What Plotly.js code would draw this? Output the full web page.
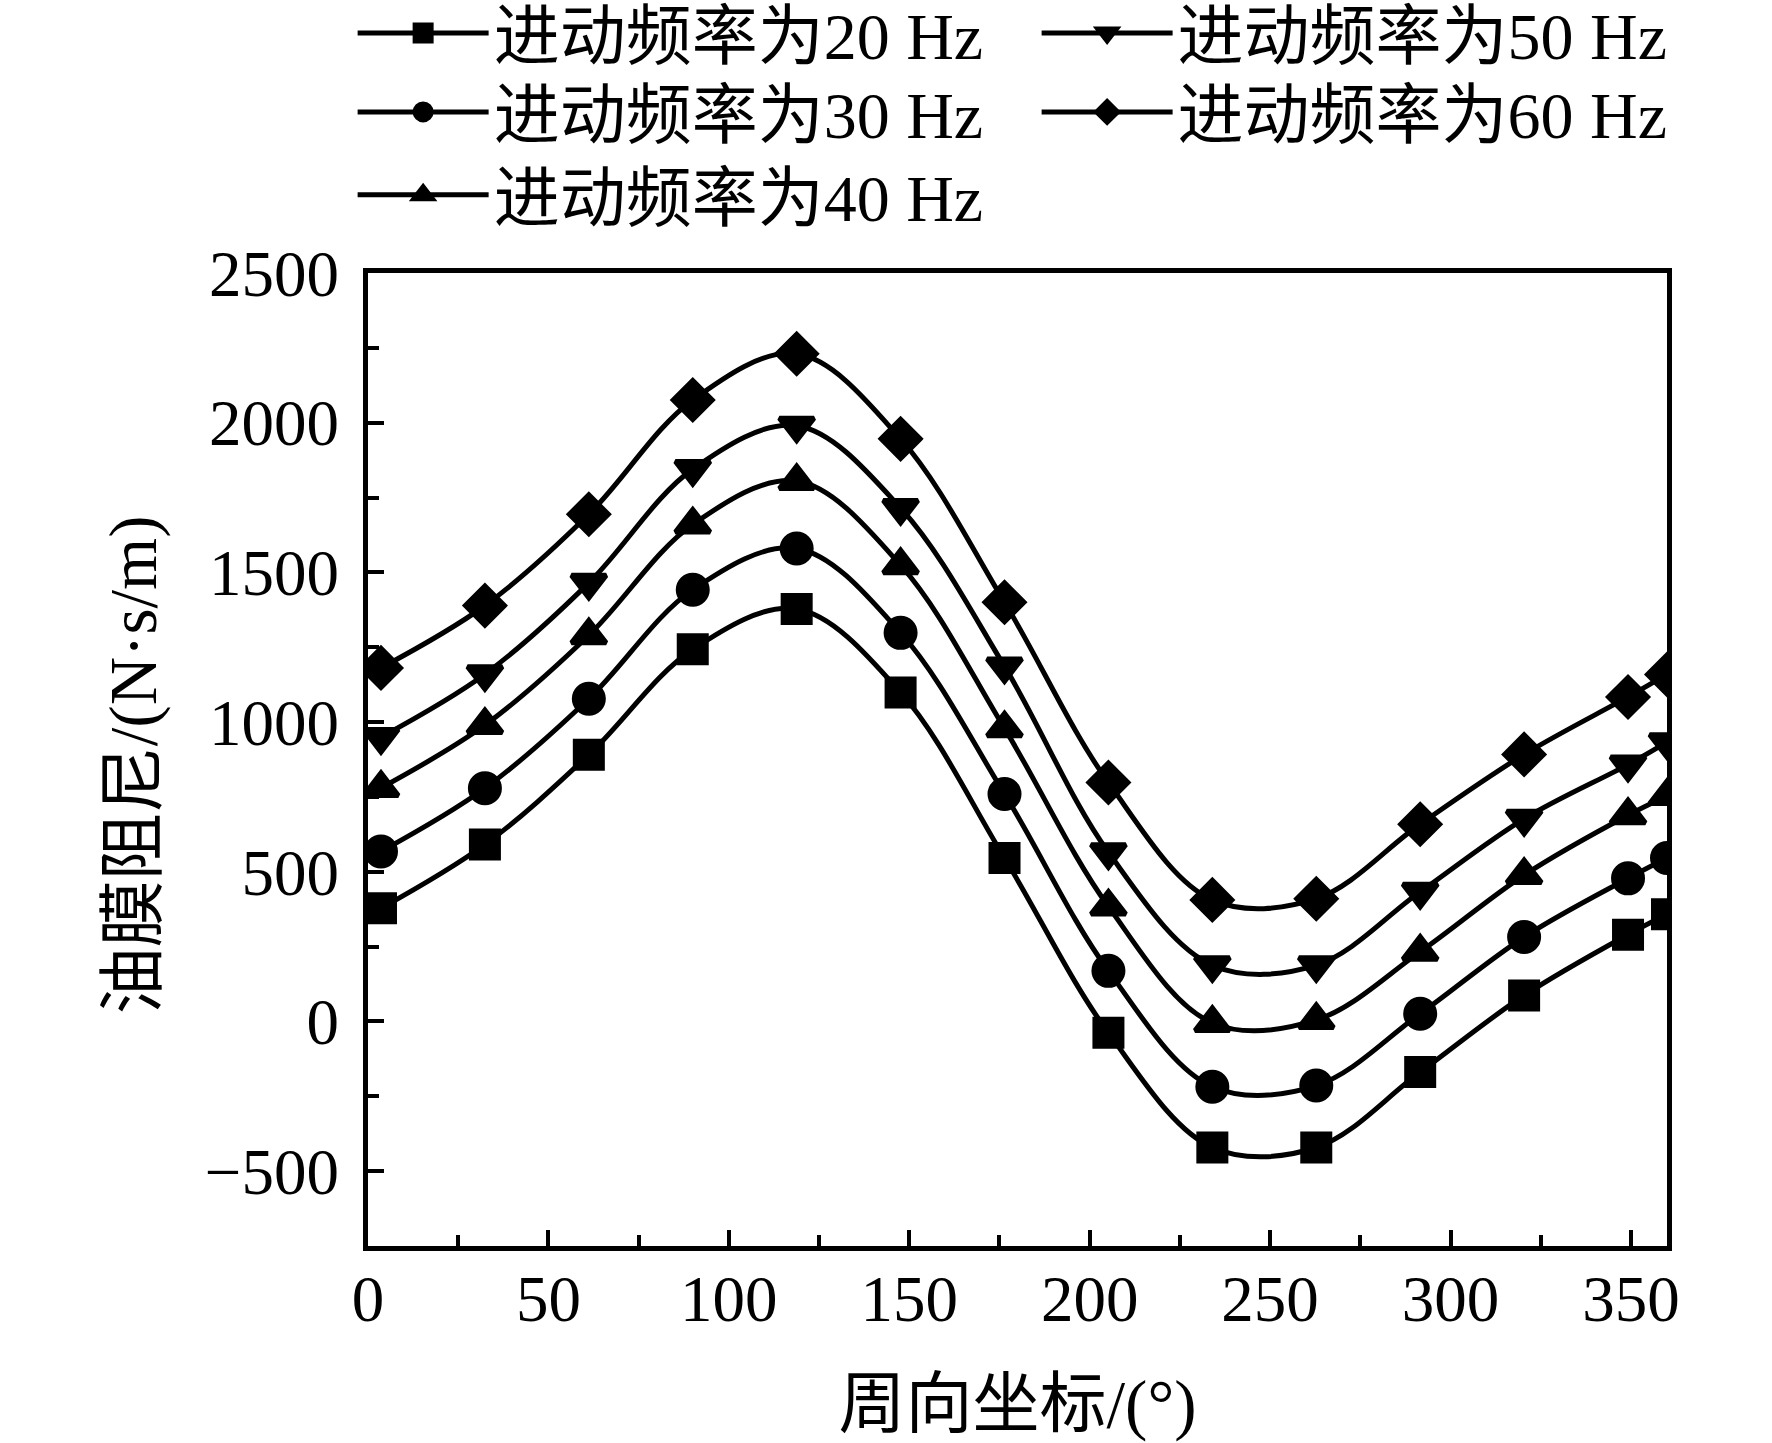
<!DOCTYPE html>
<html>
<head>
<meta charset="utf-8">
<script src="https://cdn.plot.ly/plotly-3.0.1.min.js"></script>
<style>
  body { margin: 0; background: #fff; }
  #chart { width: 1772px; height: 1443px; }
</style>
</head>
<body>
<div id="chart"></div>
<script>
// circumferential coordinate (deg)
const angle = [3.6, 32.4, 61.2, 90, 118.8, 147.6, 176.4, 205.2, 234, 262.8, 291.6, 320.4, 349.2, 360];

// oil film damping (N·s/m) for each whirl frequency
const damp20 = [378, 591, 891, 1243, 1378, 1099, 546, -38, -421, -421, -169, 87, 290, 358];
const damp30 = [568, 779, 1078, 1442, 1580, 1298, 760, 169, -218, -214, 26, 282, 478, 546];
const damp40 = [780, 990, 1290, 1660, 1805, 1524, 979, 384, -5, 5, 233, 489, 689, 753];
const damp50 = [950, 1160, 1465, 1845, 1990, 1715, 1186, 565, 188, 188, 433, 677, 858, 933];
const damp60 = [1181, 1389, 1694, 2076, 2230, 1946, 1400, 798, 406, 410, 659, 892, 1084, 1159];

const names = ['进动频率为20 Hz', '进动频率为30 Hz', '进动频率为40 Hz', '进动频率为50 Hz', '进动频率为60 Hz'];
const symbols = ['square', 'circle', 'triangle-up', 'triangle-down', 'diamond'];
// marker size before the 5px outline is added (outline also fattens the legend symbols)
const sizes = [27, 29, 30, 30, 30];
const series = [damp20, damp30, damp40, damp50, damp60];

// one legend box per entry so the two-column layout sits where the original has it
const legendIds = ['legend', 'legend2', 'legend3', 'legend4', 'legend5'];
const legendX = [0.199, 0.199, 0.199, 0.585, 0.585];
const legendY = [0.9771, 0.9224, 0.8649, 0.9771, 0.9224];

const fontFam = '"Liberation Serif", "Noto Sans CJK SC", serif';

const data = series.map((ys, i) => ({
    x: angle,
    y: ys,
    name: names[i],
    legend: legendIds[i],
    type: 'scatter',
    mode: 'lines+markers',
    line: { color: '#000', width: 5, shape: 'spline', smoothing: 1 },
    marker: { symbol: symbols[i], size: sizes[i], color: '#000', line: { width: 5, color: '#000' } }
}));

const axisBase = {
    showgrid: false,
    zeroline: false,
    showline: true,
    linecolor: '#000',
    linewidth: 5,
    mirror: true,
    ticks: 'inside',
    ticklen: 16,
    tickwidth: 4,
    tickcolor: '#000',
    tickfont: { family: fontFam, size: 65, color: '#000' },
};

const titleFont = { family: fontFam, size: 67, color: '#000' };

const layout = {
    width: 1772,
    height: 1443,
    margin: { l: 368, r: 105, t: 273, b: 197, pad: 0, autoexpand: false },
    paper_bgcolor: '#fff',
    plot_bgcolor: '#fff',
    showlegend: true,
    xaxis: Object.assign({}, axisBase, {
        range: [0, 360],
        tick0: 0,
        dtick: 50,
        automargin: false,
        ticklabelstandoff: -8,
        minor: { dtick: 25, ticks: 'inside', ticklen: 11, tickwidth: 4, tickcolor: '#000' },
        title: { text: '周向坐标/(°)', font: titleFont, standoff: 48 }
    }),
    yaxis: Object.assign({}, axisBase, {
        range: [-750, 2500],
        tick0: 0,
        dtick: 500,
        automargin: false,
        ticklabelstandoff: 11,
        minor: { dtick: 250, ticks: 'inside', ticklen: 11, tickwidth: 4, tickcolor: '#000' }
    }),
    // y-axis title as a rotated annotation (axis title misplaces with ticklabelstandoff)
    annotations: [{
        text: '油膜阻尼/(N·s/m)',
        xref: 'paper', yref: 'paper',
        x: -0.181, y: 0.495,
        xanchor: 'center', yanchor: 'middle',
        textangle: -90,
        showarrow: false,
        font: titleFont
    }]
};

legendIds.forEach((id, i) => {
    layout[id] = {
        xref: 'container',
        yref: 'container',
        x: legendX[i],
        y: legendY[i],
        xanchor: 'left',
        yanchor: 'middle',
        bgcolor: 'rgba(0,0,0,0)',
        font: { family: fontFam, size: 66, color: '#000' },
        itemwidth: 131
    };
});

Plotly.newPlot('chart', data, layout, { displayModeBar: false, responsive: false });
</script>
</body>
</html>
